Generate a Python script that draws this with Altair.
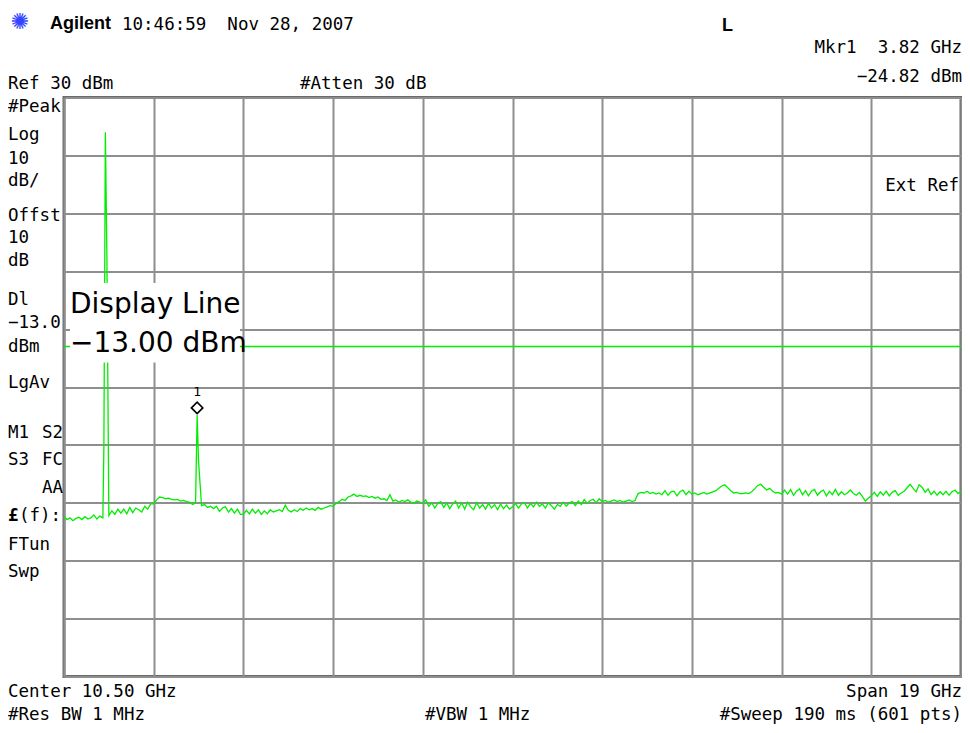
import altair as alt
import numpy as np
import pandas as pd

# ---------------- data ----------------
F_START, F_STOP = 1.0, 20.0          # GHz (center 10.50 GHz, span 19 GHz)
REF_LEVEL, BOTTOM_LEVEL = 30, -70    # dBm, 10 dB/div
DISPLAY_LINE = -13.0

# noise-floor trace (dBm), evenly spaced over the sweep
noise_dbm = [
    -42.4, -42.9, -42.6, -43.1, -42.7, -42.5, -42.9, -42.4, -42.8, -42.6,
    -42.1, -42.8, -42.3, -42.6, -42.0, -42.2, -41.4, -42.0, -41.1, -41.8,
    -41.1, -41.9, -40.8, -41.7, -40.9, -41.2, -41.6, -40.6, -41.1, -40.2,
    -40.2, -39.5, -39.0, -39.1, -39.3, -39.2, -39.4, -39.5, -39.4, -39.7,
    -39.6, -39.8, -39.9, -40.3, -40.0, -40.2, -40.5, -40.3, -40.8, -40.6,
    -41.0, -40.6, -41.5, -40.9, -40.7, -41.6, -41.0, -41.8, -41.1, -42.0,
    -42.0, -41.3, -41.9, -41.1, -41.8, -41.2, -42.0, -41.4, -41.9, -41.2,
    -41.6, -41.4, -41.2, -41.5, -40.4, -41.3, -41.6, -41.2, -41.5, -41.0,
    -41.3, -40.9, -41.2, -41.0, -41.3, -40.8, -41.1, -40.9, -40.7, -40.5,
    -40.6, -40.1, -39.8, -39.4, -39.6, -39.0, -38.8, -38.5, -38.9, -38.7,
    -38.9, -38.8, -39.1, -38.9, -39.2, -39.0, -39.4, -39.3, -39.6, -38.6,
    -39.7, -39.5, -39.9, -39.6, -39.8, -39.5, -39.9, -40.1, -39.7, -39.9,
    -40.0, -39.5, -40.6, -40.0, -40.9, -40.1, -39.8, -40.8, -40.0, -41.0,
    -40.2, -39.7, -40.9, -40.0, -41.1, -39.9, -40.7, -41.2, -40.0, -40.9,
    -40.3, -41.1, -40.1, -40.9, -40.3, -41.2, -40.2, -41.0, -40.4, -41.1,
    -40.7, -40.1, -40.9, -40.2, -40.0, -40.9, -40.1, -40.7, -39.9, -40.6,
    -40.2, -40.9, -40.0, -40.5, -41.1, -40.3, -40.6, -39.9, -40.6, -40.0,
    -39.8, -40.5, -39.7, -40.3, -39.4, -40.1, -39.6, -39.4, -40.0, -39.3,
    -39.8, -39.6, -39.9, -39.7, -39.5, -39.8, -39.6, -39.9, -39.7, -39.5,
    -39.8, -39.6, -38.4, -38.2, -38.3, -38.0, -38.4, -38.2, -38.5, -38.3,
    -38.6, -37.9, -38.7, -38.1, -38.0, -38.8, -38.1, -37.8, -38.6, -38.0,
    -38.5, -38.3, -38.6, -38.4, -38.2, -38.5, -38.3, -38.1, -37.9, -37.5,
    -37.1, -36.9, -37.4, -37.9, -38.3, -38.2, -38.4, -38.4, -38.3, -38.4,
    -38.1, -37.6, -37.0, -36.8, -37.3, -37.8, -37.5, -38.0, -38.3, -38.2,
    -38.5, -37.8, -38.5, -37.7, -38.7, -38.0, -37.6, -38.6, -37.9, -38.8,
    -38.0, -37.7, -38.7, -38.1, -37.8, -38.8, -38.0, -38.6, -37.7, -38.7,
    -38.1, -38.6, -38.3, -37.8, -38.4, -38.7, -38.2, -38.9, -39.7, -39.2,
    -38.8, -38.2, -38.9, -38.1, -38.7, -38.0, -38.8, -38.2, -37.9, -38.7,
    -38.3, -38.0, -37.4, -36.8, -37.5, -38.1, -36.9, -37.3, -38.2, -37.6,
    -38.6, -38.0, -38.7, -38.1, -38.6, -38.0, -38.7, -38.1, -37.8, -38.4,
    -38.0,
]

# spurs / carrier
spike_freq = [1.845, 1.876, 1.908, 3.82, 3.85]
spike_dbm = [-30.2, 24.0, 3.2, -24.82, -32.8]

marker_freq = [3.82]
marker_dbm = [-24.82]
marker_label = ["1"]

x_grid = [1.0, 2.9, 4.8, 6.7, 8.6, 10.5, 12.4, 14.3, 16.2, 18.1, 20.0]
y_grid = [30, 20, 10, 0, -10, -20, -30, -40, -50, -60, -70]

# ---------------- build trace table ----------------
noise_freq = np.linspace(F_START, F_STOP, len(noise_dbm))
keep = [all(abs(f - s) > 0.02 for s in spike_freq) for f in noise_freq]
trace = pd.concat([
    pd.DataFrame({"f": noise_freq[keep], "dbm": np.array(noise_dbm)[keep]}),
    pd.DataFrame({"f": spike_freq, "dbm": spike_dbm}),
]).sort_values("f").reset_index(drop=True)
trace["idx"] = np.arange(len(trace))

GREEN = "#00ee00"
MONO = "DejaVu Sans Mono"
SANS = "DejaVu Sans"
TXT = 17.5

xscale = alt.Scale(domain=[F_START, F_STOP], nice=False, zero=False)
yscale = alt.Scale(domain=[BOTTOM_LEVEL, REF_LEVEL], nice=False, zero=False)

line = alt.Chart(trace).mark_line(color=GREEN, strokeWidth=1.3).encode(
    x=alt.X("f:Q", scale=xscale,
            axis=alt.Axis(values=x_grid, grid=True, labels=False, ticks=False,
                          domain=False, title=None, gridColor="#8e8e8e", gridWidth=2)),
    y=alt.Y("dbm:Q", scale=yscale,
            axis=alt.Axis(values=y_grid, grid=True, labels=False, ticks=False,
                          domain=False, title=None, gridColor="#8e8e8e", gridWidth=2)),
    order="idx:Q",
)

dl = alt.Chart(pd.DataFrame({"y": [DISPLAY_LINE]})).mark_rule(
    color=GREEN, strokeWidth=1.5).encode(y=alt.Y("y:Q", scale=yscale))

one = pd.DataFrame({"a": [0]})
box = alt.Chart(one).mark_rect(fill="white").encode(
    x=alt.value(6), x2=alt.value(176), y=alt.value(185.5), y2=alt.value(265))

mk = pd.DataFrame({"f": marker_freq, "dbm": marker_dbm, "t": marker_label})
diamond = alt.Chart(mk).mark_point(
    shape="diamond", size=130, filled=True, fill="white", stroke="black",
    strokeWidth=1.6, opacity=1, yOffset=-7).encode(
    x=alt.X("f:Q", scale=xscale), y=alt.Y("dbm:Q", scale=yscale))
mklabel = alt.Chart(mk).mark_text(font=MONO, fontSize=13, color="black", dy=-23).encode(
    x=alt.X("f:Q", scale=xscale), y=alt.Y("dbm:Q", scale=yscale), text="t:N")


def label(text, x, y, size=TXT, font=MONO, weight="normal", align="left",
          baseline="middle", color="black"):
    return alt.Chart(one).mark_text(
        text=text, font=font, fontSize=size, fontWeight=weight, align=align,
        baseline=baseline, color=color).encode(x=alt.value(x), y=alt.value(y))


NB = "\u00a0"
texts = [
    # header
    label("\u273a", -44, -75.5, size=22, font=SANS, align="center", color="#3344ff"),
    label("Agilent", -14, -68.5, size=18, font="Liberation Sans", weight="bold",
          baseline="alphabetic"),
    label(f"10:46:59{NB}{NB}Nov{NB}28,{NB}2007", 58, -67.5, baseline="alphabetic"),
    label("L", 658, -66.5, size=18, font="Liberation Sans", weight="bold",
          baseline="alphabetic"),
    label(f"Mkr1{NB}{NB}3.82{NB}GHz", 898, -44.5, align="right", baseline="alphabetic"),
    label("\u221224.82 dBm", 898, -15.5, align="right", baseline="alphabetic"),
    label("Ref 30 dBm", -56, -8.5, baseline="alphabetic"),
    label("#Atten 30 dB", 236, -8.5, baseline="alphabetic"),
    # left column
    label("#Peak", -56, 9.5),
    label("Log", -56, 37.5),
    label("10", -56, 61.5),
    label("dB/", -56, 83.5),
    label("Offst", -56, 118.5),
    label("10", -56, 140.5),
    label("dB", -56, 163.5),
    label("Dl", -56, 202.5),
    label("\u221213.0", -56, 225.5),
    label("dBm", -56, 249.5),
    label("LgAv", -56, 285.5),
    label("M1", -56, 335.5),
    label("S2", -1, 335.5, align="right"),
    label("S3", -56, 362.5),
    label("FC", -1, 362.5, align="right"),
    label("AA", -1, 390.5, align="right"),
    label("\u00a3", -56, 418.5, weight="bold"),
    label("(f):", -45, 418.5),
    label("FTun", -56, 447.5),
    label("Swp", -56, 474.5),
    # right
    label("Ext Ref", 895, 88.5, align="right"),
    # display line callout
    label("Display Line", 6, 215.5, size=28, font=SANS, baseline="alphabetic"),
    label("\u221213.00 dBm", 6, 254.5, size=28, font=SANS, baseline="alphabetic"),
    # footer
    label("Center 10.50 GHz", -56, 594.5),
    label("Span 19 GHz", 898, 594.5, align="right"),
    label("#Res BW 1 MHz", -56, 617.5),
    label("#VBW 1 MHz", 361, 617.5),
    label("#Sweep 190 ms (601 pts)", 898, 617.5, align="right"),
]

chart = alt.layer(line, dl, box, diamond, mklabel, *texts).properties(
    width=897, height=579,
    padding={"left": 56, "top": 89.5, "right": 1, "bottom": 48.5},
    autosize=alt.AutoSizeParams(type="none"),
    background="white",
).configure_view(stroke="#6a6a6a", strokeWidth=3)

chart.save("out.html", embed_options={"renderer": "svg", "actions": False})
